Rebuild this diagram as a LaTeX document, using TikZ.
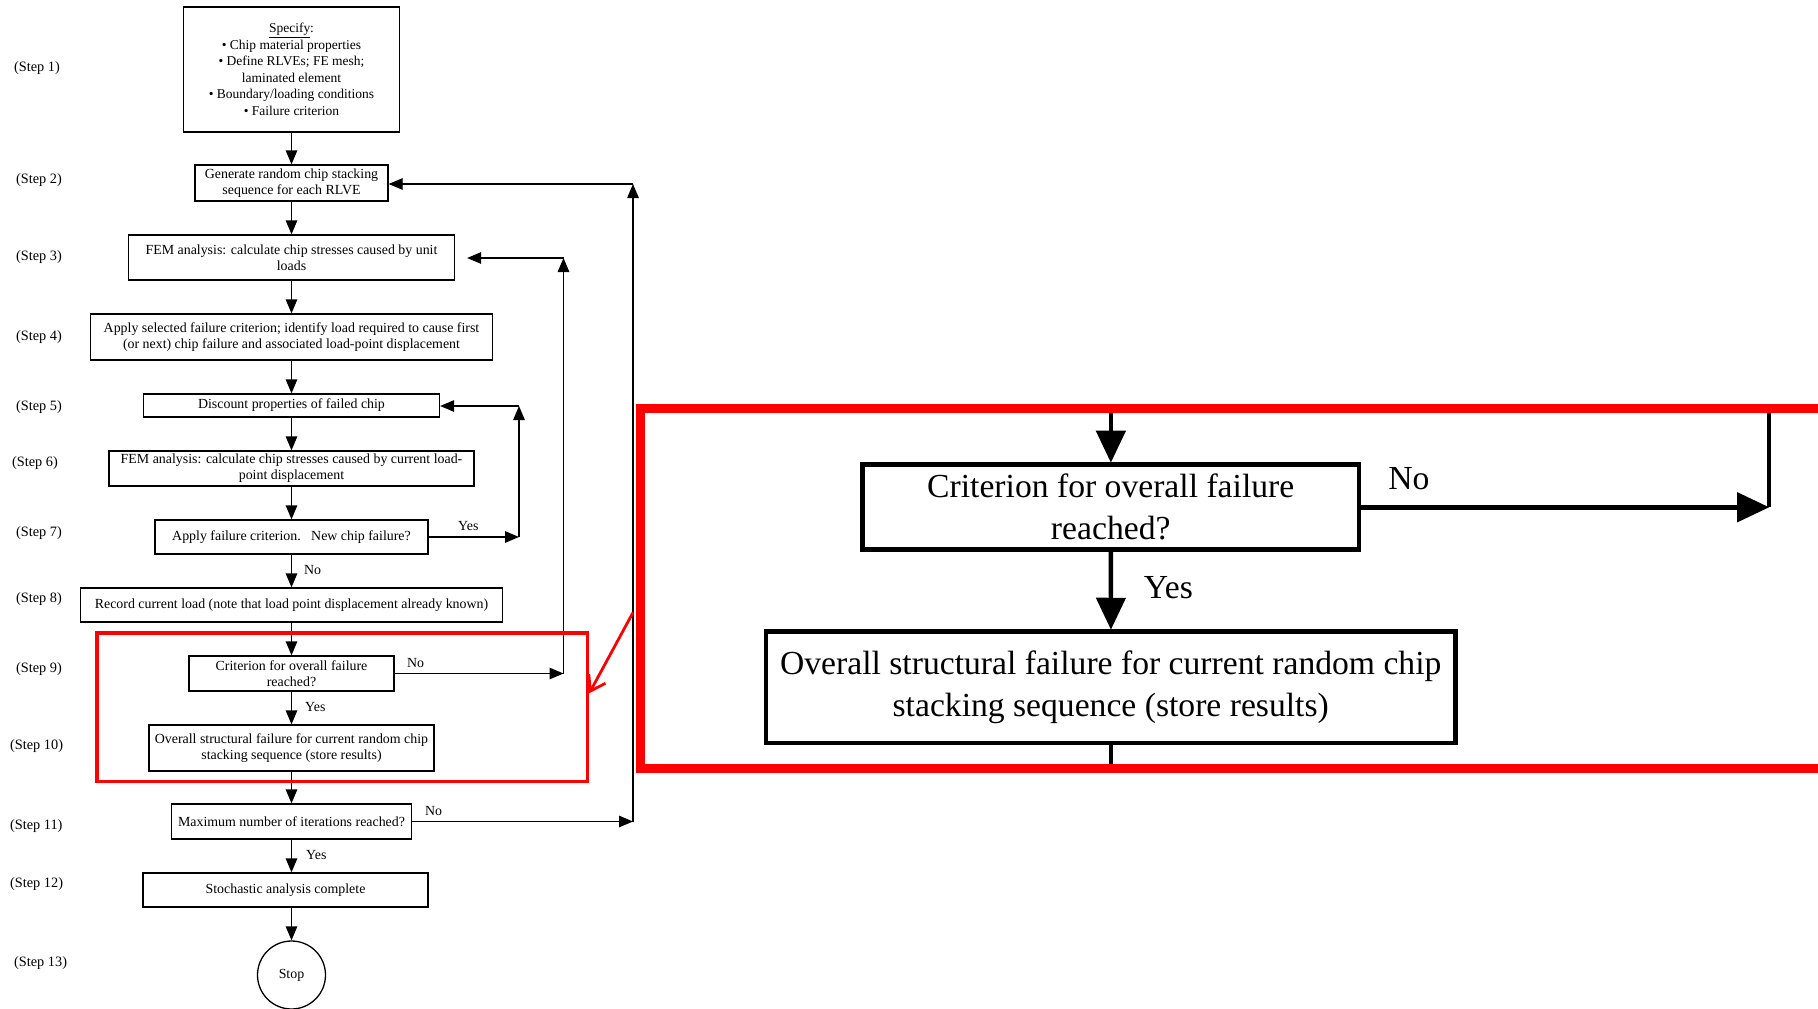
\documentclass[tikz,border=0pt]{standalone}
\usepackage{fontspec}
\setmainfont{Liberation Serif}
\usetikzlibrary{arrows.meta}
\begin{document}
\begin{tikzpicture}[x=1pt,y=-1pt,
  txt/.style={font=\fontsize{13.9}{16}\selectfont},
  box/.style={txt, draw, line width=1.3pt, inner sep=0pt, align=center},
  flow/.style={line width=1.3pt},
  arr/.style={flow, -{Triangle[length=14pt,width=11.5pt]}},
  steplabel/.style={anchor=west, inner sep=0pt, font=\fontsize{14.3}{16}\selectfont},
  answer/.style={txt, anchor=west, inner sep=0pt},
  critbox/.style={box, minimum width=205pt, minimum height=35pt},
  failbox/.style={box, minimum width=285pt, minimum height=46pt},
  bigline/.style={line width=4.5pt},
  bigbox/.style={bigline, outer sep=0.9pt, font=\fontsize{13.9}{17.2}\selectfont},
  bigarr/.style={bigline, -{Triangle[length=32pt,width=29pt]}},
  hl/.style={draw=red, line width=3.5pt, inner sep=0pt}
]
\useasboundingbox (0,0) rectangle (1818,1009);

% step numbers down the left margin
\node[steplabel] (lab1)  at (14,68)  {(Step 1)};
\node[steplabel] (lab2)  at (16,180) {(Step 2)};
\node[steplabel] (lab3)  at (16,257) {(Step 3)};
\node[steplabel] (lab4)  at (16,337) {(Step 4)};
\node[steplabel] (lab5)  at (16,407) {(Step 5)};
\node[steplabel] (lab6)  at (12,463) {(Step 6)};
\node[steplabel] (lab7)  at (16,533) {(Step 7)};
\node[steplabel] (lab8)  at (16,599) {(Step 8)};
\node[steplabel] (lab9)  at (16,669) {(Step 9)};
\node[steplabel] (lab10) at (10,746) {(Step 10)};
\node[steplabel] (lab11) at (10,826) {(Step 11)};
\node[steplabel] (lab12) at (10,884) {(Step 12)};
\node[steplabel] (lab13) at (14,963) {(Step 13)};

% process boxes
\node[box, minimum width=216pt, minimum height=125pt, font=\fontsize{13.5}{16.5}\selectfont] (s1) at (291.5,69.5)
  {\underline{Specify}:\\• Chip material properties\\• Define RLVEs; FE mesh;\\laminated element\\• Boundary/loading conditions\\• Failure criterion};
\node[box, minimum width=193pt, minimum height=36pt] (s2) at (291.5,183)
  {Generate random chip stacking\\sequence for each RLVE};
\node[box, minimum width=326pt, minimum height=45pt] (s3) at (291.5,257.5)
  {FEM analysis: calculate chip stresses caused by unit\\loads};
\node[box, minimum width=402pt, minimum height=46pt] (s4) at (291.5,337)
  {Apply selected failure criterion; identify load required to cause first\\(or next) chip failure and associated load-point displacement};
\node[box, minimum width=296pt, minimum height=23pt] (s5) at (291.5,405.5)
  {Discount properties of failed chip};
\node[box, minimum width=365pt, minimum height=35pt] (s6) at (291.5,468.5)
  {FEM analysis: calculate chip stresses caused by current load-\\point displacement};
\node[box, minimum width=273pt, minimum height=34pt] (s7) at (291.5,537)
  {Apply failure criterion.\ \ \ New chip failure?};
\node[box, minimum width=422pt, minimum height=34pt] (s8) at (291.5,605)
  {Record current load (note that load point displacement already known)};
\node[critbox] (s9) at (291.5,673.5)
  {Criterion for overall failure\\reached?};
\node[failbox] (s10) at (291.5,748)
  {Overall structural failure for current random chip\\stacking sequence (store results)};
\node[box, minimum width=240pt, minimum height=35pt] (s11) at (291.5,821.5)
  {Maximum number of iterations reached?};
\node[box, minimum width=285pt, minimum height=34pt] (s12) at (285.5,890)
  {Stochastic analysis complete};
\node[txt, draw, circle, line width=1.3pt, minimum size=68pt, inner sep=0pt] (stop) at (291.5,975) {Stop};

% main downward flow
\draw[arr] (s1) -- (s2);
\draw[arr] (s2) -- (s3);
\draw[arr] (s3) -- (s4);
\draw[arr] (s4) -- (s5);
\draw[arr] (s5) -- (s6);
\draw[arr] (s6) -- (s7);
\draw[arr] (s7) -- (s8);
\draw[arr] (s8) -- (s9);
\draw[arr] (s9) -- (s10);
\draw[arr] (s10) -- (s11);
\draw[arr] (s11.south) -- (s11.south |- s12.north);
\draw[arr] (s11.south |- s12.south) -- (stop.north);

\node[answer] (no7)   at (304,570) {No};
\node[answer] (yes9)  at (305,707) {Yes};
\node[answer] (yes11) at (306,855) {Yes};

% loop: new chip failure -> discount properties
\coordinate (k7) at (519,537);
\coordinate (k5) at (519,406);
\draw[arr] (s7.east) -- (k7);
\draw[arr] (k7) -- (k5);
\draw[arr] (k5) -- (k5 -| s5.east);
\node[answer] (yes7) at (458,526) {Yes};

% loop: no overall failure -> FEM with unit loads
\coordinate (k9) at (563.5,673.5);
\coordinate (k3) at (563.5,258);
\draw[arr] (s9.east) -- (k9);
\draw[arr] (k9) -- (k3);
\draw[arr, shorten >=12pt] (k3) -- (k3 -| s3.east);
\node[answer] (no9) at (407,663) {No};

% loop: iterations left -> new stacking sequence
\coordinate (k11) at (633,821.5);
\coordinate (k2) at (633,184);
\draw[arr] (s11.east) -- (k11);
\draw[arr] (k11) -- (k2);
\draw[arr] (k2) -- (k2 -| s2.east);
\node[answer] (no11) at (425,811) {No};

% red highlight of steps 9-10 and pointer from the enlarged view
\node[hl, minimum width=490.5pt, minimum height=148.5pt] (hilite) at (342.25,707.25) {};
\coordinate (zoomsrc) at (633,612.5);
\draw[red, line width=2.8pt, -{Straight Barb[length=14pt,width=19pt]}] (zoomsrc) -- ([yshift=14pt]hilite.east);

% enlarged view of steps 9-10
\begin{scope}[shift={(405.3,-1122.9)}, scale=2.42, transform shape]
  \clip (95.1,631.1) rectangle (760,783.4);
  \node[critbox, bigbox] (zs9) at (291.5,673.5)
    {Criterion for overall failure\\reached?};
  \node[failbox, bigbox] (zs10) at (291.5,748)
    {Overall structural failure for current random chip\\stacking sequence (store results)};
  \coordinate (zin) at (291.5,625);
  \coordinate (zout) at (291.5,790);
  \coordinate (zturn) at (563.5,673.5);
  \coordinate (zup) at (563.5,625);
  \draw[bigarr] (zin) -- (zs9.north);
  \draw[bigarr] (zs9.east) -- (zturn);
  \draw[bigline] (zturn) -- (zup);
  \draw[bigarr] (zs9) -- (zs10);
  \draw[bigline] (zs10.south) -- (zout);
  \node[answer] (zno) at (406,662) {No};
  \node[answer] (zyes) at (305,707) {Yes};
  \draw[red, line width=9pt] (97,633) rectangle (587.5,781.5);
\end{scope}
\end{tikzpicture}
\end{document}
